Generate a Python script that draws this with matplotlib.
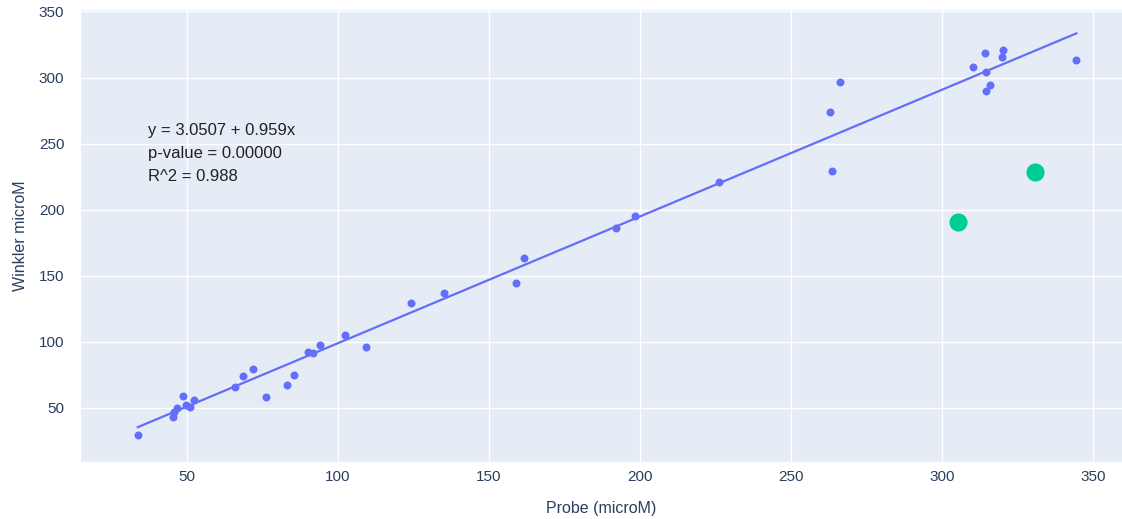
import matplotlib
matplotlib.use('Agg')
import matplotlib.pyplot as plt

# Donnees (Probe vs Winkler, microM)
probe = [33.8, 45.5, 45.7, 46.8, 48.6, 49.9, 51.0, 52.3, 65.9, 68.6, 71.9, 76.1,
         83.3, 85.5, 90.0, 91.7, 94.0, 102.3, 109.5, 124.4, 135.0, 159.0, 161.8,
         192.2, 198.5, 226.3, 262.9, 266.3, 263.6, 310.3, 314.1, 320.3, 319.8,
         314.5, 316.0, 314.5, 344.5]
winkler = [29.5, 43.4, 47.2, 49.8, 59.3, 52.3, 51.0, 56.0, 66.2, 74.2, 79.5, 58.1,
           67.4, 75.0, 92.0, 91.7, 98.0, 105.5, 96.0, 129.5, 137.0, 144.7, 163.6,
           186.4, 195.5, 221.2, 273.7, 296.5, 229.3, 307.6, 318.2, 321.2, 315.7,
           304.3, 294.2, 290.0, 313.1]

# points exclus (en vert)
probe_out = [305.2, 330.8]
winkler_out = [190.7, 228.3]

intercept = 3.0507
slope = 0.959
p_value = 0.0
r2 = 0.988

bg = '#E5ECF6'
bleu = '#636EFA'
vert = '#00CC96'
texte = '#2a3f5f'

plt.rcParams['font.family'] = ['Liberation Sans', 'DejaVu Sans']

fig = plt.figure(figsize=(11.22, 5.19), dpi=100)
ax = fig.add_axes([81 / 1122, 1 - 462 / 519, 1 - 81 / 1122, 452 / 519])
ax.set_facecolor(bg)

ax.scatter(probe, winkler, s=33, color=bleu, zorder=3, linewidths=0)
ax.scatter(probe_out, winkler_out, s=170, color=vert, zorder=3, linewidths=0)

xmin, xmax = min(probe), max(probe)
ax.plot([xmin, xmax], [intercept + slope * xmin, intercept + slope * xmax],
        color=bleu, lw=1.6, zorder=2)

ax.text(37.1, 259.6, f"y = {intercept:.4f} + {slope:.3f}x", fontsize=12, va='center', color='#222222')
ax.text(37.1, 242.2, f"p-value = {p_value:.5f}", fontsize=12, va='center', color='#222222')
ax.text(37.1, 224.8, f"R^2 = {r2:.3f}", fontsize=12, va='center', color='#222222')

ax.set_xlim(15.0, 359.6)
ax.set_ylim(9.1, 351.1)
ax.set_xticks([50, 100, 150, 200, 250, 300, 350])
ax.set_yticks([50, 100, 150, 200, 250, 300, 350])
ax.grid(True, color='white', lw=1.0)
ax.set_axisbelow(True)
for s in ax.spines.values():
    s.set_visible(False)
ax.tick_params(length=0, labelsize=11, colors=texte, pad=6)
ax.tick_params(axis='y', pad=12)

ax.set_xlabel("Probe (microM)", fontsize=11.5, color=texte, labelpad=12)
ax.set_ylabel("Winkler microM", fontsize=11.5, color=texte, labelpad=8)

fig.savefig("out.png", dpi=100)
